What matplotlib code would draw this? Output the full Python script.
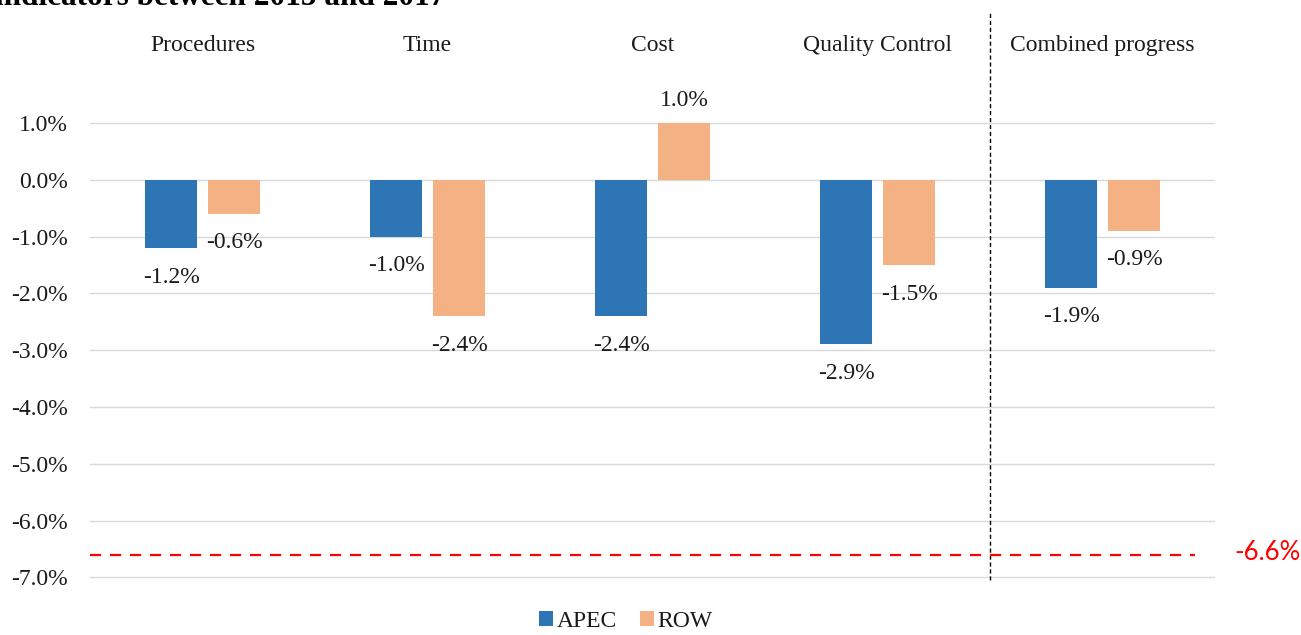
import matplotlib.pyplot as plt
import numpy as np

# data
categories = ['Procedures', 'Time', 'Cost', 'Quality Control', 'Combined progress']
apec = [-1.2, -1.0, -2.4, -2.9, -1.9]
row = [-0.6, -2.4, 1.0, -1.5, -0.9]
target = -6.6
yticks = [1, 0, -1, -2, -3, -4, -5, -6, -7]

plt.rcParams['font.family'] = ['Liberation Serif', 'DejaVu Serif']
txt = '#1a1a1a'
fs = 17

fig = plt.figure(figsize=(13.01, 6.35), dpi=100)
ax = fig.add_axes([0.0692, 0.0880, 0.8647, 0.8930])

x = np.arange(len(categories))
w = 0.227
off = 0.14
b1 = ax.bar(x - off, apec, w, color='#2E75B6', label='APEC', zorder=3)
b2 = ax.bar(x + off, row, w, color='#F4B183', label='ROW', zorder=3)

# value labels at outside end
for bars, vals in [(b1, apec), (b2, row)]:
    for rect, v in zip(bars, vals):
        cx = rect.get_x() + rect.get_width() / 2
        dy = 16 if v > 0 else -21
        ax.annotate(f'{v:.1f}%', (cx, v), xytext=(0, dy), textcoords='offset points',
                    ha='center', va='center', fontsize=fs, color=txt)

ax.set_xlim(-0.5, 4.5)
ax.set_ylim(-7.03, 2.95)
ax.set_yticks(yticks)
ax.set_yticklabels([f'{t:.1f}%' for t in yticks], fontsize=fs, color=txt)
ax.set_xticks([])
ax.tick_params(axis='y', length=0, pad=16)
for s in ax.spines.values():
    s.set_visible(False)
for t in yticks:
    ax.axhline(t, color='#D9D9D9', lw=1, zorder=1)

# category names across the top
for xi, c in zip(x, categories):
    ax.text(xi, 2.36, c, ha='center', va='center', fontsize=fs, color=txt)

# separator before combined progress
ax.plot([3.5, 3.5], [-7.04, 2.95], color='black', lw=1, ls=(0, (3, 2)), clip_on=False, zorder=4)

# target line
ax.hlines(target, -0.5, 4.41, colors='#FF0000', lw=1.6, ls=(0, (5, 4)), zorder=4)
ax.text(4.585, target + 0.04, f'{target:.1f}%', color='#FF0000', fontsize=18.5, va='center',
        ha='left', family=['Lato', 'DejaVu Sans'])

fig.text(-0.004, 0.992, 'indicators between 2015 and 2017', fontsize=22.5, fontweight='bold',
         va='baseline', ha='left', color='black')

fig.legend(handles=[b1, b2], loc='lower center', bbox_to_anchor=(0.481, -0.028), ncol=2,
           frameon=False, fontsize=fs, handlelength=0.6, handleheight=0.6,
           handletextpad=0.15, columnspacing=1.0, labelcolor=txt)

fig.savefig('out.png', dpi=100)
